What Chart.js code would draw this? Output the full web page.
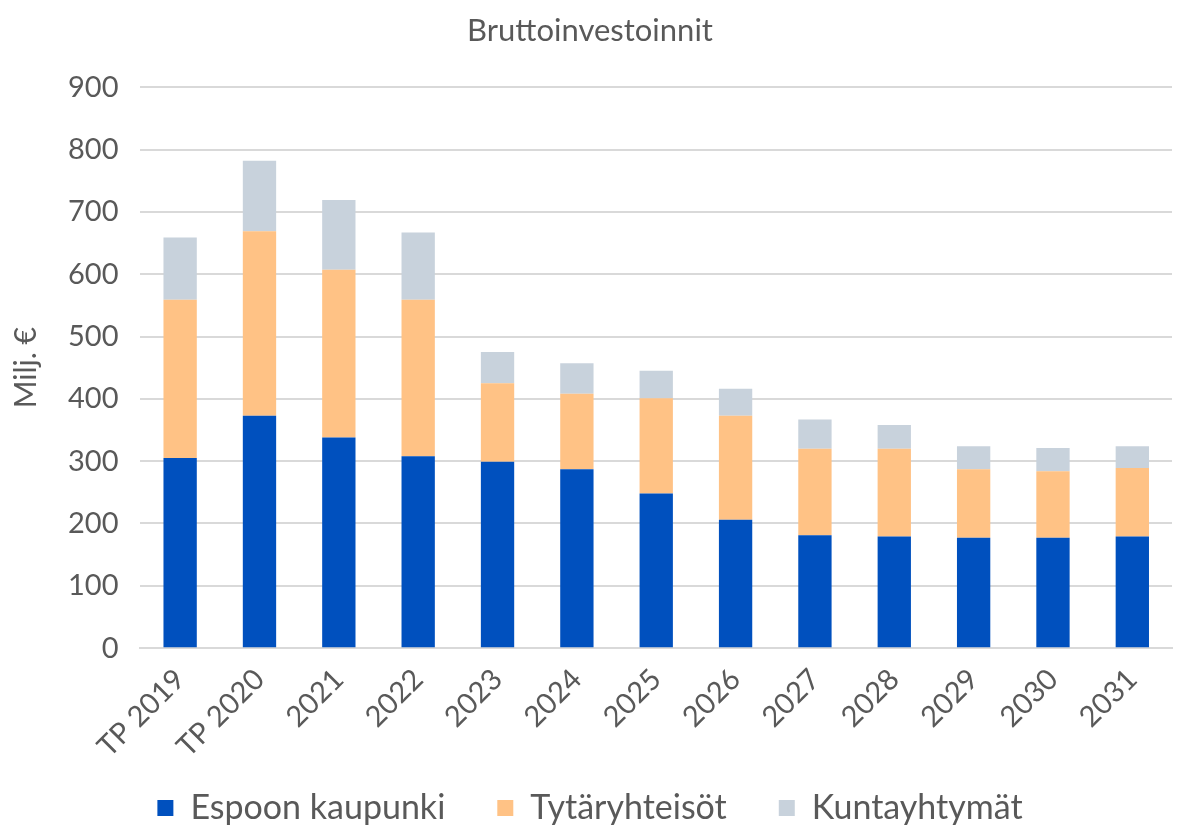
<!DOCTYPE html>
<html>
<head>
<meta charset="utf-8">
<script src="https://cdn.jsdelivr.net/npm/chart.js@4"></script>
<style>
  html, body { margin: 0; padding: 0; background: #fff; }
  #wrap { width: 1178px; height: 828px; }
</style>
</head>
<body>
<div id="wrap"><canvas id="invChart"></canvas></div>
<script>
const categories = ['TP 2019', 'TP 2020', '2021', '2022', '2023', '2024', '2025', '2026', '2027', '2028', '2029', '2030', '2031']
const espoo = [305, 373, 338, 308, 299, 287, 248, 206, 181, 179, 177, 177, 179]
const tytar = [254, 296, 269, 251, 126, 121, 153, 167, 139, 141, 110, 107, 110]
const kunta = [100, 113, 112, 108, 50, 49, 44, 43, 47, 38, 37, 37, 35]

const textCol = '#595959'
const fontFam = 'Lato, "Open Sans", sans-serif'
const legendPad = 52
const legendFont = 34

// legend padding sets the gap between items but also pushes the row down,
// so give the legend a fixed height and move its box up after layout
const legendTrim = {
  id: 'legendTrim',
  beforeInit (chart) {
    const fit = chart.legend.fit
    chart.legend.fit = function () {
      fit.bind(chart.legend)()
      this.height = 58
    }
  },
  afterLayout (chart) {
    const lg = chart.legend
    lg.top = 808 - legendPad - legendFont / 2
    lg.bottom = chart.height
    lg.height = lg.bottom - lg.top
  }
}

var ctx = document.getElementById('invChart').getContext('2d')
var invChart = new Chart(ctx, {
  type: 'bar',
  data: {
    labels: categories,
    datasets: [
      { label: 'Espoon kaupunki', data: espoo, backgroundColor: '#0050BE' },
      { label: 'Tytäryhteisöt', data: tytar, backgroundColor: '#FFC285' },
      { label: 'Kuntayhtymät', data: kunta, backgroundColor: '#C8D2DC' }
    ]
  },
  options: {
    responsive: true,
    maintainAspectRatio: false,
    animation: false,
    datasets: {
      bar: { categoryPercentage: 1, barPercentage: 0.42 }
    },
    layout: { padding: { left: 8, right: 6, top: 8, bottom: 0 } },
    plugins: {
      title: {
        display: true,
        text: 'Bruttoinvestoinnit',
        color: textCol,
        font: { family: fontFam, size: 31, weight: 'normal' },
        padding: { top: 4, bottom: 38 }
      },
      legend: {
        position: 'bottom',
        labels: {
          color: textCol,
          font: { family: fontFam, size: legendFont },
          boxWidth: 16,
          boxHeight: 16,
          padding: legendPad
        }
      },
      tooltip: { enabled: false }
    },
    scales: {
      x: {
        stacked: true,
        grid: { display: false },
        border: { color: '#D9D9D9', width: 2 },
        ticks: {
          color: textCol,
          font: { family: fontFam, size: 29 },
          minRotation: 45,
          maxRotation: 45,
          padding: 6
        }
      },
      y: {
        stacked: true,
        min: 0,
        max: 900,
        ticks: {
          stepSize: 100,
          color: textCol,
          font: { family: fontFam, size: 29 },
          padding: 22
        },
        grid: { color: '#D9D9D9', lineWidth: 2, drawTicks: false },
        border: { display: false },
        title: {
          display: true,
          text: 'Milj. €',
          color: textCol,
          font: { family: fontFam, size: 30 },
          padding: { top: 0, bottom: 2 }
        }
      }
    }
  },
  plugins: [legendTrim]
})
invChart.update()
</script>
</body>
</html>
